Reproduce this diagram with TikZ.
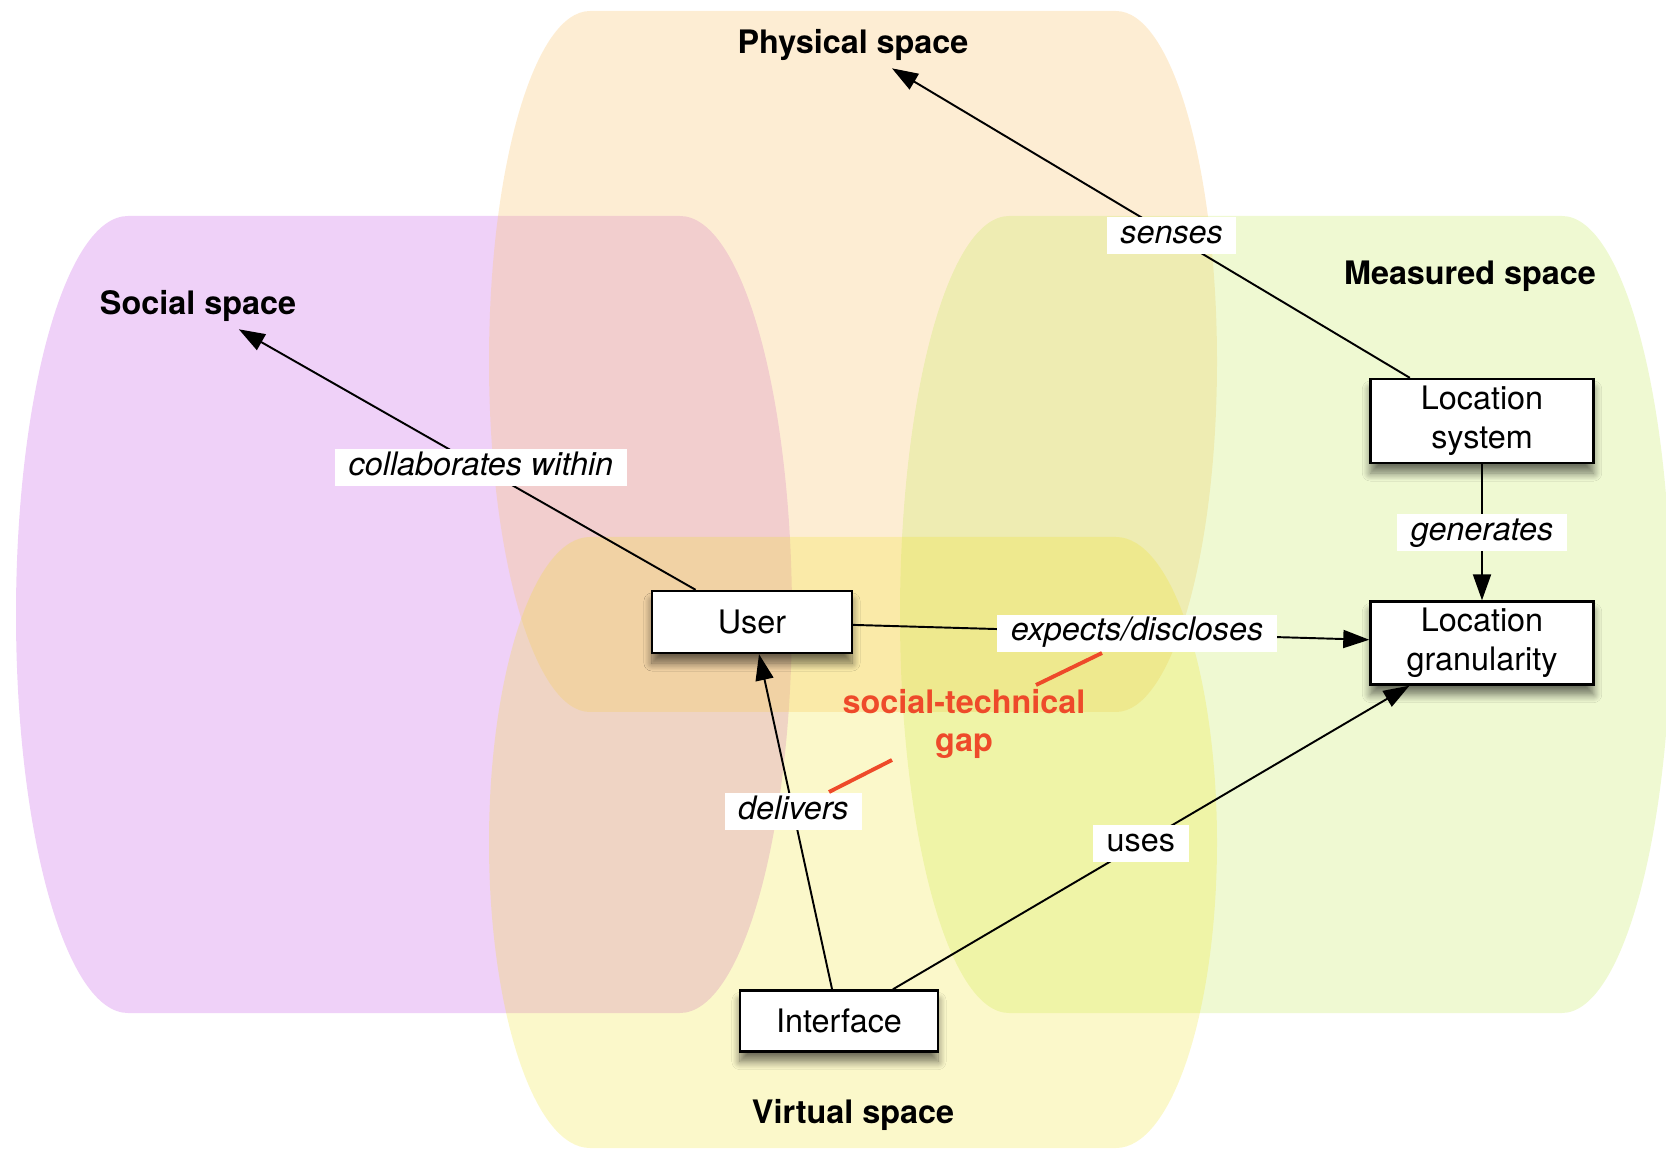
\documentclass[tikz,border=0pt]{standalone}
\usepackage{fontspec}
\setmainfont{TeX Gyre Heros}
\usetikzlibrary{arrows.meta,shadows.blur}
\definecolor{socialfill}{HTML}{EFD1F8}
\definecolor{physicalfill}{HTML}{FAC877}
\definecolor{measuredfill}{HTML}{C4E959}
\definecolor{virtualfill}{HTML}{EFE21A}
\definecolor{gapred}{HTML}{EE4A2A}
\newcommand{\figfont}{\fontsize{9.2}{11}\selectfont}
% barrel: style, left flat x, right flat x, top, bottom, bulge
\newcommand{\barrel}[6]{%
  \pgfmathsetmacro{\barrelh}{0.5523*(#5-#4)/2}%
  \pgfmathsetmacro{\barrelm}{(#4+#5)/2}%
  \pgfmathsetmacro{\barrelk}{0.5523*#6}%
  \fill[#1] (#2,#4) -- (#3,#4)
    .. controls ({#3+\barrelk},#4) and ({#3+#6},{\barrelm-\barrelh}) .. ({#3+#6},\barrelm)
    .. controls ({#3+#6},{\barrelm+\barrelh}) and ({#3+\barrelk},#5) .. (#3,#5)
    -- (#2,#5)
    .. controls ({#2-\barrelk},#5) and ({#2-#6},{\barrelm+\barrelh}) .. ({#2-#6},\barrelm)
    .. controls ({#2-#6},{\barrelm-\barrelh}) and ({#2-\barrelk},#4) .. cycle;}
\begin{document}
\begin{tikzpicture}[x=0.01cm,y=-0.01cm,
  spacelabel/.style={font=\figfont\bfseries,inner sep=2pt},
  thing/.style={draw,line width=0.65pt,fill=white,font=\figfont,align=center,inner sep=0pt,
    blur shadow={shadow xshift=0pt,shadow yshift=-0.1cm,shadow blur radius=0.08cm,shadow blur steps=10,shadow opacity=55}},
  link/.style={line width=0.55pt,-{Triangle[length=0.26cm,width=0.18cm]}},
  tag/.style={fill=white,font=\figfont\itshape,inner xsep=0.135cm,inner ysep=0.7pt,text height=6.8pt,text depth=2.3pt},
  gapmark/.style={gapred,line width=1.1pt}]
\useasboundingbox (0,0) rectangle (1666,1149);
\barrel{socialfill}{128}{680}{216}{1013}{112}
\barrel{physicalfill,fill opacity=0.32}{590}{1116}{11}{712}{101}
\barrel{measuredfill,fill opacity=0.27}{1009}{1562}{216}{1013}{109}
\barrel{virtualfill,fill opacity=0.23}{590}{1116}{537}{1148}{101}

\node[spacelabel] (physical) at (853,45) {Physical space};
\node[spacelabel] (social) at (198,306) {Social space};
\node[spacelabel] (measured) at (1470,276) {Measured space};
\node[spacelabel] (virtual) at (853,1115) {Virtual space};

\node[thing,minimum width=2cm,minimum height=0.62cm] (user) at (752,622) {User};
\node[thing,minimum width=2.23cm,minimum height=0.84cm] (locsys) at (1482,421) {Location\\system};
\node[thing,minimum width=2.23cm,minimum height=0.83cm] (granularity) at (1482,643) {Location\\granularity};
\node[thing,minimum width=1.98cm,minimum height=0.61cm] (interface) at (839,1021) {Interface};

\draw[link] (user) -- node[tag,pos=0.47] {collaborates within} (social);
\draw[link] (locsys) -- node[tag,pos=0.46] {senses} (physical);
\draw[link] (locsys) -- node[tag] {generates} (granularity);
\draw[link] (user) -- node[tag,pos=0.55] {expects/discloses} (granularity);
\draw[link] (interface) -- node[tag,pos=0.53] {delivers} (user);
\draw[link] (interface) -- node[tag,pos=0.48,font=\figfont] {uses} (granularity);

\node[font=\figfont\bfseries,text=gapred,align=center] (gap) at (964,724) {social-technical\\gap};
\coordinate (gapup1) at (1036,685);
\coordinate (gapup2) at (1102,653);
\coordinate (gaplow1) at (829,792);
\coordinate (gaplow2) at (892,760);
\draw[gapmark] (gapup1) -- (gapup2);
\draw[gapmark] (gaplow1) -- (gaplow2);
\end{tikzpicture}
\end{document}
